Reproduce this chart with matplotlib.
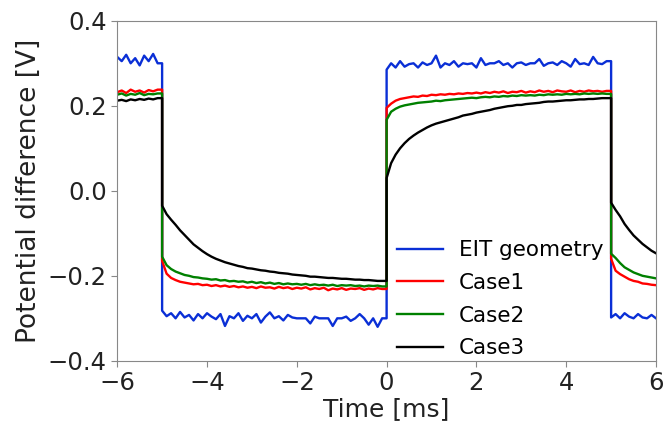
import numpy as np
import matplotlib
matplotlib.use("Agg")
import matplotlib.pyplot as plt

# time axis [ms], one sample every 0.1 ms
time_ms = np.round(np.arange(-6.0, 6.0001, 0.1), 2)
# instants where the excitation switches
switch_ms = [-5.0, 0.0, 5.0]

# potential difference [V], one list per segment
# segments: -6..-5.1 (high), -5..-0.1 (low), 0..4.9 (high), 5..6 (low)
eit_geometry = (
    [0.315, 0.305, 0.320, 0.300, 0.312, 0.295, 0.318, 0.305, 0.322, 0.300]
    + [-0.282, -0.295, -0.288, -0.300, -0.285, -0.298, -0.292, -0.305, -0.290, -0.300,
       -0.288, -0.296, -0.302, -0.290, -0.318, -0.295, -0.300, -0.288, -0.306, -0.294,
       -0.300, -0.290, -0.310, -0.296, -0.286, -0.300, -0.295, -0.305, -0.292, -0.298,
       -0.300, -0.300, -0.300, -0.312, -0.296, -0.300, -0.300, -0.300, -0.318, -0.300,
       -0.300, -0.296, -0.306, -0.300, -0.290, -0.300, -0.315, -0.300, -0.320, -0.300]
    + [0.285, 0.300, 0.290, 0.305, 0.292, 0.298, 0.300, 0.290, 0.302, 0.296,
       0.300, 0.318, 0.290, 0.300, 0.296, 0.305, 0.292, 0.300, 0.298, 0.300,
       0.290, 0.312, 0.296, 0.300, 0.300, 0.305, 0.296, 0.300, 0.290, 0.300,
       0.302, 0.296, 0.300, 0.300, 0.310, 0.294, 0.300, 0.302, 0.296, 0.305,
       0.300, 0.292, 0.310, 0.298, 0.300, 0.296, 0.315, 0.300, 0.298, 0.305]
    + [-0.298, -0.290, -0.300, -0.288, -0.296, -0.300, -0.290, -0.298, -0.300, -0.292, -0.300]
)

case1 = (
    [0.232, 0.236, 0.230, 0.238, 0.233, 0.236, 0.231, 0.237, 0.234, 0.238]
    + [-0.165, -0.195, -0.205, -0.210, -0.214, -0.216, -0.218, -0.220, -0.219, -0.222,
       -0.221, -0.224, -0.222, -0.225, -0.223, -0.226, -0.224, -0.227, -0.225, -0.228,
       -0.226, -0.229, -0.225, -0.228, -0.227, -0.230, -0.226, -0.229, -0.227, -0.231,
       -0.228, -0.230, -0.227, -0.232, -0.229, -0.231, -0.228, -0.234, -0.230, -0.232,
       -0.229, -0.233, -0.230, -0.231, -0.229, -0.233, -0.230, -0.232, -0.229, -0.231]
    + [0.195, 0.205, 0.212, 0.216, 0.218, 0.220, 0.222, 0.221, 0.224, 0.223,
       0.226, 0.225, 0.227, 0.226, 0.228, 0.227, 0.229, 0.228, 0.230, 0.229,
       0.231, 0.229, 0.232, 0.230, 0.233, 0.231, 0.234, 0.230, 0.233, 0.232,
       0.235, 0.231, 0.234, 0.232, 0.236, 0.233, 0.235, 0.232, 0.236, 0.234,
       0.233, 0.236, 0.232, 0.235, 0.233, 0.236, 0.234, 0.235, 0.233, 0.235]
    + [-0.160, -0.188, -0.196, -0.202, -0.208, -0.212, -0.214, -0.218, -0.219, -0.221, -0.222]
)

case2 = (
    [0.226, 0.229, 0.224, 0.228, 0.226, 0.230, 0.225, 0.228, 0.227, 0.229]
    + [-0.155, -0.175, -0.184, -0.190, -0.194, -0.198, -0.200, -0.203, -0.204, -0.206,
       -0.207, -0.209, -0.208, -0.211, -0.210, -0.213, -0.212, -0.214, -0.213, -0.216,
       -0.214, -0.217, -0.215, -0.218, -0.216, -0.219, -0.217, -0.220, -0.218, -0.220,
       -0.219, -0.221, -0.219, -0.222, -0.220, -0.222, -0.221, -0.223, -0.221, -0.224,
       -0.222, -0.223, -0.222, -0.224, -0.223, -0.225, -0.223, -0.224, -0.223, -0.225]
    + [0.167, 0.186, 0.193, 0.198, 0.201, 0.203, 0.205, 0.207, 0.208, 0.209,
       0.210, 0.212, 0.211, 0.213, 0.214, 0.215, 0.216, 0.217, 0.218, 0.219,
       0.218, 0.220, 0.221, 0.220, 0.222, 0.221, 0.223, 0.222, 0.224, 0.223,
       0.225, 0.224, 0.225, 0.224, 0.226, 0.225, 0.227, 0.226, 0.227, 0.226,
       0.228, 0.227, 0.228, 0.227, 0.229, 0.228, 0.229, 0.228, 0.229, 0.228]
    + [-0.148, -0.158, -0.170, -0.180, -0.186, -0.192, -0.196, -0.200, -0.202, -0.204, -0.206]
)

case3 = (
    [0.212, 0.214, 0.211, 0.215, 0.213, 0.216, 0.214, 0.217, 0.215, 0.218]
    + [-0.035, -0.055, -0.068, -0.080, -0.093, -0.104, -0.115, -0.126, -0.134, -0.142,
       -0.149, -0.155, -0.160, -0.164, -0.168, -0.171, -0.174, -0.177, -0.179, -0.182,
       -0.183, -0.185, -0.187, -0.188, -0.190, -0.191, -0.193, -0.194, -0.195, -0.197,
       -0.198, -0.199, -0.200, -0.202, -0.202, -0.203, -0.204, -0.205, -0.205, -0.206,
       -0.207, -0.207, -0.208, -0.209, -0.209, -0.210, -0.210, -0.211, -0.212, -0.212]
    + [0.030, 0.065, 0.085, 0.100, 0.112, 0.122, 0.130, 0.137, 0.143, 0.149,
       0.154, 0.158, 0.161, 0.164, 0.167, 0.170, 0.173, 0.177, 0.179, 0.181,
       0.184, 0.186, 0.188, 0.190, 0.193, 0.195, 0.197, 0.199, 0.200, 0.202,
       0.202, 0.204, 0.205, 0.206, 0.207, 0.209, 0.210, 0.210, 0.211, 0.212,
       0.213, 0.213, 0.214, 0.215, 0.215, 0.216, 0.216, 0.217, 0.218, 0.218]
    + [-0.028, -0.045, -0.060, -0.078, -0.092, -0.105, -0.115, -0.125, -0.133, -0.141, -0.147]
)

labels = ["EIT geometry", "Case1", "Case2", "Case3"]
colors = ["#0a2fd6", "#ff0000", "#008000", "#000000"]


def with_sharp_edges(t, y):
    # hold the previous value up to each switch so the edge is drawn vertical
    t = np.asarray(t, dtype=float)
    y = np.asarray(y, dtype=float)
    idx = [int(np.argmin(np.abs(t - s))) for s in switch_ms]
    t_out = np.insert(t, idx, t[idx])
    y_out = np.insert(y, idx, y[np.array(idx) - 1])
    return t_out, y_out


fig = plt.figure(figsize=(6.66, 4.24), dpi=100)
ax = fig.add_axes([0.176, 0.149, 0.809, 0.802])

for series, lab, col in zip([eit_geometry, case1, case2, case3], labels, colors):
    tx, vy = with_sharp_edges(time_ms, series)
    ax.plot(tx, vy, color=col, lw=1.7, label=lab)

ax.set_xlim(-6, 6)
ax.set_ylim(-0.4, 0.4)
ax.set_xticks([-6, -4, -2, 0, 2, 4, 6])
ax.set_yticks([-0.4, -0.2, 0.0, 0.2, 0.4])
ax.tick_params(labelsize=17.5, colors="#222222", length=4, width=0.8)
ax.tick_params(axis="both", color="#888888")
for s in ax.spines.values():
    s.set_color("#888888")

ax.set_xlabel("Time [ms]", fontsize=18, color="#222222", labelpad=1)
ax.set_ylabel("Potential difference [V]", fontsize=19, color="#222222", labelpad=4)

ax.legend(loc="upper left", bbox_to_anchor=(0.519, 0.355), frameon=False,
          fontsize=15.5, borderpad=0, borderaxespad=0, handlelength=2.14,
          handletextpad=0.75, labelspacing=0.59)

fig.savefig("out.png", dpi=100)
